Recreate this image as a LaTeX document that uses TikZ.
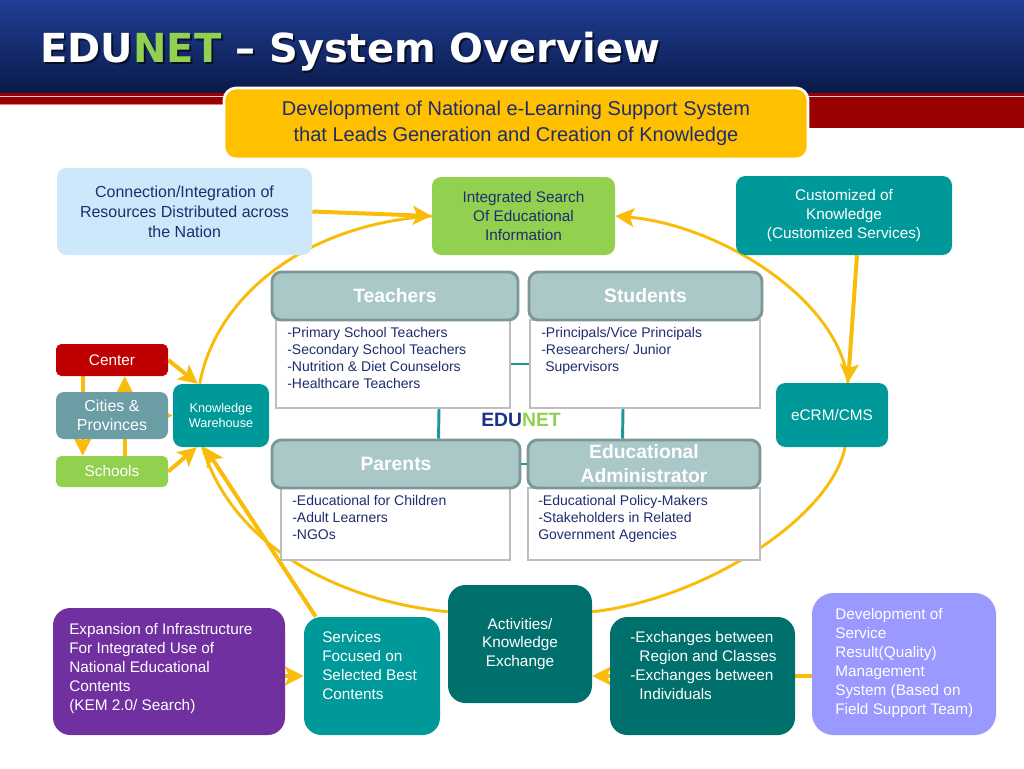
\documentclass[tikz,border=0pt]{standalone}
\usepackage{fontspec}
\setmainfont{Liberation Sans}
\newfontfamily\titlefont{DejaVu Sans}
\usepackage{tikz}
\usetikzlibrary{arrows.meta, calc, backgrounds, positioning}
\usepackage{xcolor}
\definecolor{hdrtop}{RGB}{32,62,150}
\definecolor{hdrmid}{RGB}{20,42,115}
\definecolor{hdrbot}{RGB}{10,26,72}
\definecolor{hdrred}{RGB}{155,0,0}
\definecolor{hdrpink}{RGB}{225,130,130}
\definecolor{edyellow}{RGB}{255,192,0}
\definecolor{edgold}{RGB}{250,188,10}
\definecolor{ednavy}{RGB}{31,45,110}
\definecolor{ednavytwo}{RGB}{28,50,135}
\definecolor{edsky}{RGB}{204,232,250}
\definecolor{edgreen}{RGB}{146,208,80}
\definecolor{edteal}{RGB}{0,153,153}
\definecolor{eddark}{RGB}{0,112,108}
\definecolor{edred}{RGB}{192,0,0}
\definecolor{edgrey}{RGB}{106,158,164}
\definecolor{edpurple}{RGB}{112,48,160}
\definecolor{edlav}{RGB}{153,153,255}
\definecolor{cardfill}{RGB}{170,200,200}
\definecolor{cardedge}{RGB}{125,150,150}
\definecolor{cardline}{RGB}{190,190,190}
\definecolor{linkteal}{RGB}{30,150,150}

\tikzset{
  box/.style={rounded corners=7pt, inner sep=2pt, align=center, text=white,
    font=\fontsize{11.5}{14}\selectfont},
  bigbox/.style={box, rounded corners=13pt},
  boxtext/.style={anchor=north west, inner sep=0pt, align=left, text=white,
    font=\fontsize{11.5}{14.25}\selectfont},
  cardhead/.style={draw=cardedge, line width=2.2pt, fill=cardfill, rounded corners=7pt,
    text=white, align=center, font=\fontsize{14.5}{18}\selectfont\bfseries},
  cardbody/.style={draw=cardline, line width=1.5pt, fill=white},
  cardtext/.style={anchor=north west, inner sep=0pt, align=left, text=ednavy,
    font=\fontsize{10.5}{12.75}\selectfont},
  flow/.style={draw=edgold, line width=3pt, -{Stealth[length=14pt,width=14pt,inset=3pt]}},
  ring/.style={draw=edgold, line width=2.2pt},
  link/.style={draw=linkteal, line width=2.2pt}
}

\begin{document}
\begin{tikzpicture}[x=0.75pt, y=-0.75pt]
  \useasboundingbox (0,0) rectangle (1024,768);
  \shade[top color=hdrtop, middle color=hdrmid, bottom color=hdrbot] (0,0) rectangle (1024,93);
  \fill[hdrred] (0,93) rectangle (1024,104);
  \fill[hdrred] (808,93) rectangle (1024,128);
  \draw[white!80!hdrred, line width=0.8pt] (0,96.5) -- (1024,96.5);
  \draw[hdrpink, line width=0.6pt] (0,104) -- (808,104);

  \node[anchor=base west, inner sep=0pt, text=black, opacity=0.6,
        font=\titlefont\bfseries\fontsize{30}{30}\selectfont] (title-sh) at (42,64)
        {EDUNET – System Overview};
  \node[anchor=base west, inner sep=0pt, text=white,
        font=\titlefont\bfseries\fontsize{30}{30}\selectfont] (title) at (40,62)
        {EDU\textcolor{edgreen}{NET} – System Overview};

  \node[draw=white, line width=2pt, fill=edyellow, rounded corners=9pt, minimum width=438pt,
        minimum height=53.25pt, align=center, text=ednavy, font=\fontsize{15}{19.5}\selectfont]
        (goal) at (516,123.5)
        {Development of National e-Learning Support System\\that Leads Generation and Creation of Knowledge};

  \node[box, fill=edsky, text=ednavy, font=\fontsize{12}{15}\selectfont, minimum width=191.25pt,
        minimum height=65.25pt] (conn) at (184.5,211.5)
        {Connection/Integration of\\Resources Distributed across\\the Nation};
  \node[box, fill=edgreen, text=ednavy, minimum width=137.25pt, minimum height=58.5pt]
        (isearch) at (523.5,216) {Integrated Search\\Of Educational\\Information};
  \node[box, fill=edteal, minimum width=162pt, minimum height=59.25pt] (custom) at (844,215.5)
        {Customized of\\Knowledge\\(Customized Services)};

  \node[box, fill=edred, rounded corners=4pt, minimum width=84pt, minimum height=24pt]
        (center) at (112,360) {Center};
  \node[box, fill=edgrey, rounded corners=6pt, font=\fontsize{12}{14}\selectfont,
        minimum width=84pt, minimum height=35.25pt] (cities) at (112,415.5) {Cities \&\\Provinces};
  \node[box, fill=edgreen, rounded corners=4pt, minimum width=84pt, minimum height=23.25pt]
        (schools) at (112,471.5) {Schools};
  \node[box, fill=edteal, font=\fontsize{9.5}{11.5}\selectfont, minimum width=72pt,
        minimum height=47.25pt] (kw) at (221,415.5) {Knowledge\\Warehouse};
  \node[box, fill=edteal, minimum width=84pt, minimum height=48pt] (ecrm) at (832,415) {eCRM/CMS};

  \node[cardbody, minimum width=175.5pt, minimum height=66pt] (tbody) at (393,364) {};
  \node[cardhead, minimum width=184.5pt, minimum height=36pt] (thead) at (395,296) {Teachers};
  \node[cardtext] (tlist) at (287,327)
        {-Primary School Teachers\\-Secondary School Teachers\\-Nutrition \& Diet Counselors\\-Healthcare Teachers};
  \node[cardbody, minimum width=172.5pt, minimum height=66pt] (sbody) at (645,364) {};
  \node[cardhead, minimum width=174.75pt, minimum height=36pt] (shead) at (645.5,296) {Students};
  \node[cardtext] (slist) at (541,327)
        {-Principals/Vice Principals\\-Researchers/ Junior\\\hspace*{3pt}Supervisors};
  \node[cardbody, minimum width=171.75pt, minimum height=54pt] (pbody) at (395.5,524) {};
  \node[cardhead, minimum width=186pt, minimum height=36pt] (phead) at (396,464) {Parents};
  \node[cardtext] (plist) at (292,495)
        {-Educational for Children\\-Adult Learners\\-NGOs};
  \node[cardbody, minimum width=174pt, minimum height=54pt] (abody) at (644,524) {};
  \node[cardhead, minimum width=174pt, minimum height=36pt] (ahead) at (644,464)
        {Educational\\Administrator};
  \node[cardtext] (alist) at (538,495)
        {-Educational Policy-Makers\\-Stakeholders in Related\\Government Agencies};
  \node[font=\fontsize{14.5}{16}\selectfont\bfseries, text=ednavytwo] (hub) at (521,420)
        {EDU\textcolor{edgreen}{NET}};

  \node[bigbox, fill=edpurple, minimum width=174pt, minimum height=95.25pt] (infra) at (169,671.5) {};
  \node[boxtext] (infra-t) at (69,623.5)
        {Expansion of Infrastructure\\For Integrated Use of\\National Educational\\Contents\\(KEM 2.0/ Search)};
  \node[bigbox, fill=edteal, minimum width=102pt, minimum height=88.5pt] (serv) at (372,676) {};
  \node[boxtext] (serv-t) at (322,631.5) {Services\\Focused on\\Selected Best\\Contents};
  \node[bigbox, fill=eddark, minimum width=108pt, minimum height=88.5pt] (act) at (520,644)
        {Activities/\\Knowledge\\Exchange};
  \node[bigbox, fill=eddark, minimum width=138.75pt, minimum height=88.5pt] (exch) at (702.5,676) {};
  \node[boxtext] (exch-t) at (630,631.5)
        {-Exchanges between\\\hspace*{0.6em}Region and Classes\\-Exchanges between\\\hspace*{0.6em}Individuals};
  \node[bigbox, fill=edlav, rounded corners=16pt, minimum width=138pt, minimum height=106.5pt]
        (devel) at (904,664) {};
  \node[boxtext] (devel-t) at (835,608.5)
        {Development of\\Service\\Result(Quality)\\Management\\System (Based on\\Field Support Team)};

  \begin{scope}[on background layer]
    \draw[ring] ($(kw.north west)+(27,0)$) .. controls (215,300) and (300,225) .. (isearch.west);
    \draw[ring, -{Stealth[length=14pt,width=14pt,inset=3pt]}] ($(ecrm.north)+(16,0)$)
          .. controls (840,300) and (720,225) .. (isearch.east);
    \draw[ring] ($(ecrm.south)+(13,0)$) .. controls (830,520) and (700,600) .. ($(act.north east)+(0,27)$);
    \draw[ring] ($(act.north west)+(0,27)$) .. controls (330,600) and (230,540) .. ($(kw.south west)+(30,0)$);

    \draw[flow] (conn.east) -- (isearch.west);
    \draw[flow] ($(custom.south)+(13,0)$) -- ($(ecrm.north)+(16,0)$);
    \draw[flow] (center.east) -- ($(kw.north west)+(25,0)$);
    \draw[flow] (cities.east) -- (kw.west);
    \draw[flow] (schools.east) -- ($(kw.south west)+(24,0)$);
    \draw[flow] ($(serv.north west)+(12,0)$) -- ($(kw.south west)+(32,0)$);
    \draw[flow] (serv.west -| infra.east) -- (serv.west);
    \draw[flow] (exch.west) -- (exch.west -| act.east);
    \draw[flow, -] (devel.west |- exch.east) -- (exch.east);
    \draw[flow, -] ($(center.south west)+(27,0)$) -- ($(cities.north west)+(27,0)$);
    \draw[flow] ($(cities.south west)+(27,0)$) -- ($(schools.north west)+(27,0)$);
    \draw[flow, -] ($(schools.north west)+(69,0)$) -- ($(cities.south west)+(69,0)$);
    \draw[flow] ($(cities.north west)+(69,0)$) -- ($(center.south west)+(69,0)$);

    \draw[link] (tbody.east) -- (sbody.west);
    \draw[link] ($(tbody.south west)+(164,0)$) -- ($(phead.north west)+(168,0)$);
    \draw[link] ($(sbody.south west)+(94,0)$) -- ($(ahead.north west)+(96,0)$);
    \draw[link] (phead.east) -- (ahead.west);
  \end{scope}
\end{tikzpicture}
\end{document}
